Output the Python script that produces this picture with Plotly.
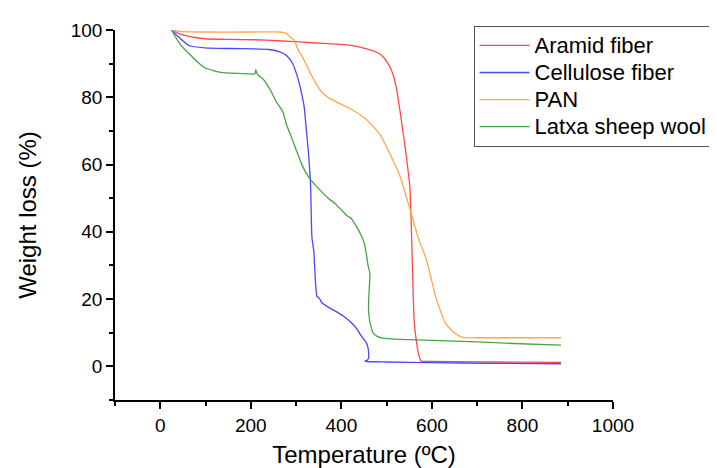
import plotly.graph_objects as go

# Temperature (°C) and weight (%)
aramid_T = [25, 40, 63, 99, 150, 206, 260, 314, 360, 421, 465, 486, 493, 500, 508, 515, 522, 533, 542, 547, 551, 554, 558, 561, 565, 570, 576, 600, 700, 800, 885]
aramid_W = [100, 99.0, 98.1, 97.4, 97.2, 97.1, 96.8, 96.4, 96.0, 95.4, 94.0, 92.8, 91.9, 90.7, 88.8, 86.4, 82.4, 72.7, 64.0, 58.6, 53.8, 44.1, 24.7, 13.1, 8.2, 4.0, 1.6, 1.5, 1.35, 1.25, 1.16]

cellulose_T = [25, 40, 63, 99, 150, 206, 240, 264, 280, 292, 302, 310, 318, 321, 327, 332, 335, 339, 343, 346, 351, 357, 370, 386, 405, 421, 435, 443, 449, 454, 458, 460, 460, 457, 452, 457, 500, 600, 744, 885]
cellulose_W = [100, 98.0, 95.4, 94.7, 94.5, 94.4, 94.2, 93.5, 92.3, 90.1, 86.5, 82.4, 77.0, 72.7, 64.0, 53.8, 38.3, 34.4, 24.7, 20.8, 20.3, 18.9, 17.7, 16.5, 14.9, 13.1, 11.0, 9.2, 8.2, 7.3, 6.0, 4.4, 2.4, 1.8, 1.6, 1.45, 1.3, 1.1, 0.9, 0.77]

pan_T = [25, 50, 100, 200, 264, 278, 292, 296, 305, 314, 321, 332, 343, 355, 371, 395, 421, 457, 486, 504, 529, 551, 572, 586, 601, 608, 629, 645, 658, 672, 700, 800, 885]
pan_W = [100, 99.5, 99.4, 99.4, 99.4, 99.0, 97.4, 96.9, 94.0, 92.0, 90.1, 87.0, 84.3, 81.8, 79.9, 78.2, 76.5, 73.2, 68.8, 64.0, 56.7, 47.0, 37.3, 32.5, 24.7, 20.8, 13.0, 10.5, 9.2, 8.5, 8.5, 8.5, 8.5]

wool_T = [25, 40, 63, 99, 135, 170, 206, 209, 211, 213, 216, 228, 242, 257, 271, 278, 290, 300, 314, 328, 343, 371, 386, 414, 421, 439, 447, 454, 459, 463, 462, 461, 460, 462, 465, 470, 479, 490, 508, 529, 600, 700, 780, 885]
wool_W = [100, 96.5, 93.0, 88.7, 87.4, 87.1, 86.9, 87.0, 88.2, 87.3, 86.6, 85.3, 82.4, 78.5, 75.6, 72.2, 68.0, 64.4, 59.6, 56.2, 53.8, 50.0, 48.4, 44.6, 44.1, 40.2, 38.0, 34.4, 30.0, 27.6, 24.0, 21.8, 17.0, 14.0, 12.1, 10.0, 8.9, 8.4, 8.2, 8.05, 7.7, 7.3, 6.8, 6.3]

series_names = ["Aramid fiber", "Cellulose fiber", "PAN", "Latxa sheep wool"]
series_T = [aramid_T, cellulose_T, pan_T, wool_T]
series_W = [aramid_W, cellulose_W, pan_W, wool_W]
colors = ["#FF4848", "#4848FF", "#FFA848", "#48A448"]

x_ticks = [0, 200, 400, 600, 800, 1000]
y_ticks = [0, 20, 40, 60, 80, 100]

FONT = "Arial, 'Liberation Sans', sans-serif"

fig = go.Figure()
for name, T, W, c in zip(series_names, series_T, series_W, colors):
    fig.add_trace(go.Scatter(x=T, y=W, mode="lines",
                             name="<span style='font-size:22px'>" + name + "</span>",
                             line=dict(color=c, width=1.3, shape="spline", smoothing=0.5)))

axis_common = dict(showline=True, linecolor="black", linewidth=1.5,
                   ticks="outside", ticklen=7, tickwidth=1.5, tickcolor="black",
                   showgrid=False, zeroline=False, mirror=False,
                   tickfont=dict(family=FONT, size=19, color="black"))

fig.update_layout(
    width=717, height=468,
    margin=dict(l=107.5, r=98, t=21, b=68.5),
    paper_bgcolor="white", plot_bgcolor="white",
    font=dict(family=FONT, color="black"),
    xaxis=dict(range=[-100, 1000], tickvals=x_ticks,
               minor=dict(dtick=100, tick0=0, ticklen=4, tickwidth=1.5, tickcolor="black", ticks="outside"),
               title=dict(text="Temperature (ºC)", font=dict(family=FONT, size=24), standoff=12),
               **axis_common),
    yaxis=dict(range=[-10, 100], tickvals=y_ticks,
               minor=dict(dtick=10, tick0=0, ticklen=4, tickwidth=1.5, tickcolor="black", ticks="outside"),
               title=dict(text="Weight loss (%)", font=dict(family=FONT, size=24), standoff=27),
               **axis_common),
    legend=dict(x=0.72, y=1.011, xanchor="left", yanchor="top",
                bordercolor="#555555", borderwidth=1, bgcolor="white",
                font=dict(family=FONT, size=18.5, color="black"),
                tracegroupgap=0, itemwidth=50),
    showlegend=True,
)

fig.write_html("out.html")
